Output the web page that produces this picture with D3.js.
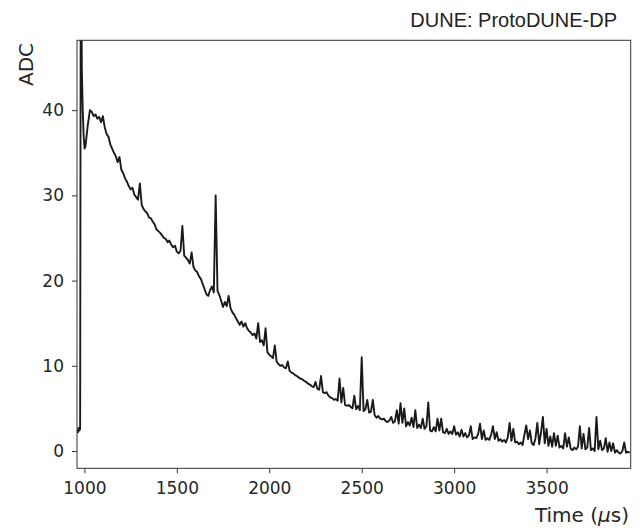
<!DOCTYPE html>
<html>
<head>
<meta charset="utf-8">
<script src="https://cdn.jsdelivr.net/npm/d3@7"></script>
<style>
  html, body { margin: 0; padding: 0; background: #fff; }
  svg { display: block; }
</style>
</head>
<body>
<svg id="chart" width="640" height="528"></svg>
<script>
// ---- data ----
const xTicks = [1000, 1500, 2000, 2500, 3000, 3500];
const yTicks = [0, 10, 20, 30, 40];
const xDomain = [960, 3955];
const yDomain = [-2.03, 48.2];

// initial pulse (µs, ADC)
const pulseTimes = [961, 965, 969, 973, 977, 981, 986, 991, 996, 1001, 1006, 1012, 1018, 1024, 1030];
const pulseAdc   = [2.5, 2.2, 2.7, 2.4, 2.6, 70, 45, 40, 37, 35.5, 35.8, 37.0, 38.2, 39.1, 40.0];

// tail, sampled every 10 µs from 1040 µs
const tailStart = 1040;
const tailStep = 10;
const tailAdc = [
  39.8, 39.3, 39.5, 39.0, 39.2, 38.6, 39.3, 38.0, 37.2, 36.9,
  36.0, 35.5, 35.0, 34.6, 33.9, 34.5, 33.0, 32.6, 32.0, 31.6,
  31.1, 30.7, 30.9, 30.1, 29.8, 29.5, 31.4, 28.9, 28.4, 28.1,
  27.9, 27.4, 27.3, 26.9, 26.6, 26.0, 25.8, 25.6, 25.3, 25.0,
  24.9, 24.5, 24.7, 24.2, 23.9, 24.1, 23.4, 23.2, 23.5, 26.4,
  22.9, 22.7, 22.4, 22.0, 23.3, 21.6, 21.2, 21.0, 20.5, 20.2,
  19.6, 19.0, 18.4, 18.2, 18.9, 19.3, 18.6, 30.0, 18.8, 18.3,
  17.6, 16.9, 17.5, 17.0, 18.2, 16.8, 16.3, 16.0, 15.6, 15.2,
  14.8, 15.2, 14.6, 15.0, 14.4, 14.1, 13.9, 13.6, 13.8, 13.2,
  15.0, 12.8, 13.0, 12.4, 14.4, 11.6, 11.3, 11.1, 10.9, 12.4,
  10.5, 10.2, 10.0, 10.1, 9.8, 9.7, 10.5, 9.4, 9.2, 9.1,
  8.9, 8.8, 8.6, 8.5, 8.4, 8.2, 8.1, 7.9, 7.8, 7.6,
  7.5, 8.1, 7.3, 7.2, 8.8, 6.9, 6.8, 6.9, 6.5, 6.3,
  6.2, 6.0, 6.1, 5.9, 8.5, 5.7, 7.4, 5.4, 5.3, 5.4,
  5.2, 5.0, 6.5, 4.9, 5.3, 4.8, 11.0, 4.7, 4.9, 6.0,
  4.5, 4.6, 6.0, 4.2, 3.9, 4.1, 3.8, 3.7, 3.8, 3.5,
  3.4, 3.6, 4.0, 3.3, 3.5, 4.8, 3.2, 5.6, 3.3, 5.0,
  2.9, 3.4, 3.0, 3.9, 2.8, 4.8, 2.7, 3.1, 2.7, 3.8,
  2.6, 2.9, 5.7, 2.4, 2.3, 2.8, 2.3, 3.8, 2.4, 3.8,
  2.2, 2.1, 2.6, 2.0, 2.3, 2.0, 2.9, 1.9, 2.2, 1.7,
  2.5, 1.7, 2.1, 1.6, 1.8, 2.9, 1.4, 1.6, 1.5, 2.0,
  3.2, 1.4, 2.4, 1.3, 1.5, 1.3, 1.9, 2.9, 1.4, 2.2,
  1.2, 1.4, 1.1, 1.3, 1.0, 1.6, 3.3, 1.2, 2.6, 1.0,
  1.1, 0.8, 1.0, 0.7, 1.9, 3.0, 1.4, 2.4, 0.9, 0.7,
  1.5, 3.3, 0.8, 2.2, 4.0, 0.9, 2.6, 0.6, 1.7, 0.5,
  2.1, 0.6, 1.8, 0.4, 0.6, 0.3, 2.1, 0.5, 1.6, 0.3,
  0.1, 0.4, 0.2, 0.5, 2.9, 0.3, 2.0, 0.2, 0.4, 2.7,
  0.1, 0.3, 0.0, 4.0, 0.2, 1.2, 0.1, 0.3, 1.5, -0.1,
  1.0, 0.0, 0.9, -0.2, 0.1, -0.2, -0.3, 0.0, 1.0, -0.2, -0.1, -0.2
];

const titleText = "DUNE: ProtoDUNE-DP";
const yLabel = "ADC";

// ---- layout ----
const svg = d3.select("#chart");
const L = 77, R = 630.7, T = 40.3, B = 468.3;

const x = d3.scaleLinear().domain(xDomain).range([L, R]);
const y = d3.scaleLinear().domain(yDomain).range([B, T]);

const points = pulseTimes.map((t, i) => [t, pulseAdc[i]])
  .concat(tailAdc.map((v, i) => [tailStart + i * tailStep, v]));

svg.append("defs").append("clipPath").attr("id", "clip")
  .append("rect").attr("x", L).attr("y", T).attr("width", R - L).attr("height", B - T);

svg.append("path")
  .datum(points)
  .attr("clip-path", "url(#clip)")
  .attr("fill", "none")
  .attr("stroke", "#1a1a1a")
  .attr("stroke-width", 1.9)
  .attr("stroke-linejoin", "round")
  .attr("d", d3.line().x(d => x(d[0])).y(d => y(d[1])));

// frame
svg.append("rect")
  .attr("x", L).attr("y", T).attr("width", R - L).attr("height", B - T)
  .attr("fill", "none").attr("stroke", "#333").attr("stroke-width", 1);

const tickFont = "'DejaVu Sans', sans-serif";

const gx = svg.append("g").attr("transform", `translate(0,${B})`)
  .call(d3.axisBottom(x).tickValues(xTicks).tickFormat(d3.format("d")).tickSize(5).tickPadding(8.5));
const gy = svg.append("g").attr("transform", `translate(${L},0)`)
  .call(d3.axisLeft(y).tickValues(yTicks).tickFormat(d3.format("d")).tickSize(5).tickPadding(8));

[gx, gy].forEach(g => {
  g.select(".domain").remove();
  g.selectAll("line").attr("stroke", "#333");
  g.selectAll("text").attr("fill", "#262626")
    .style("font-family", tickFont).style("font-size", "17px");
});

// axis labels
svg.append("text")
  .attr("transform", "translate(33,43) rotate(-90)")
  .attr("text-anchor", "end")
  .style("font-family", tickFont).style("font-size", "20px")
  .attr("fill", "#262626")
  .text(yLabel);

const xl = svg.append("text")
  .attr("x", 629).attr("y", 522)
  .attr("text-anchor", "end")
  .style("font-family", tickFont).style("font-size", "20px")
  .attr("fill", "#262626");
xl.append("tspan").text("Time (");
xl.append("tspan").style("font-style", "italic").text("\u03bc");
xl.append("tspan").text("s)");

// title
svg.append("text")
  .attr("x", 617).attr("y", 27)
  .attr("text-anchor", "end")
  .style("font-family", "'Liberation Sans', Arial, sans-serif").style("font-size", "20px")
  .attr("fill", "#222")
  .text(titleText);
</script>
</body>
</html>
